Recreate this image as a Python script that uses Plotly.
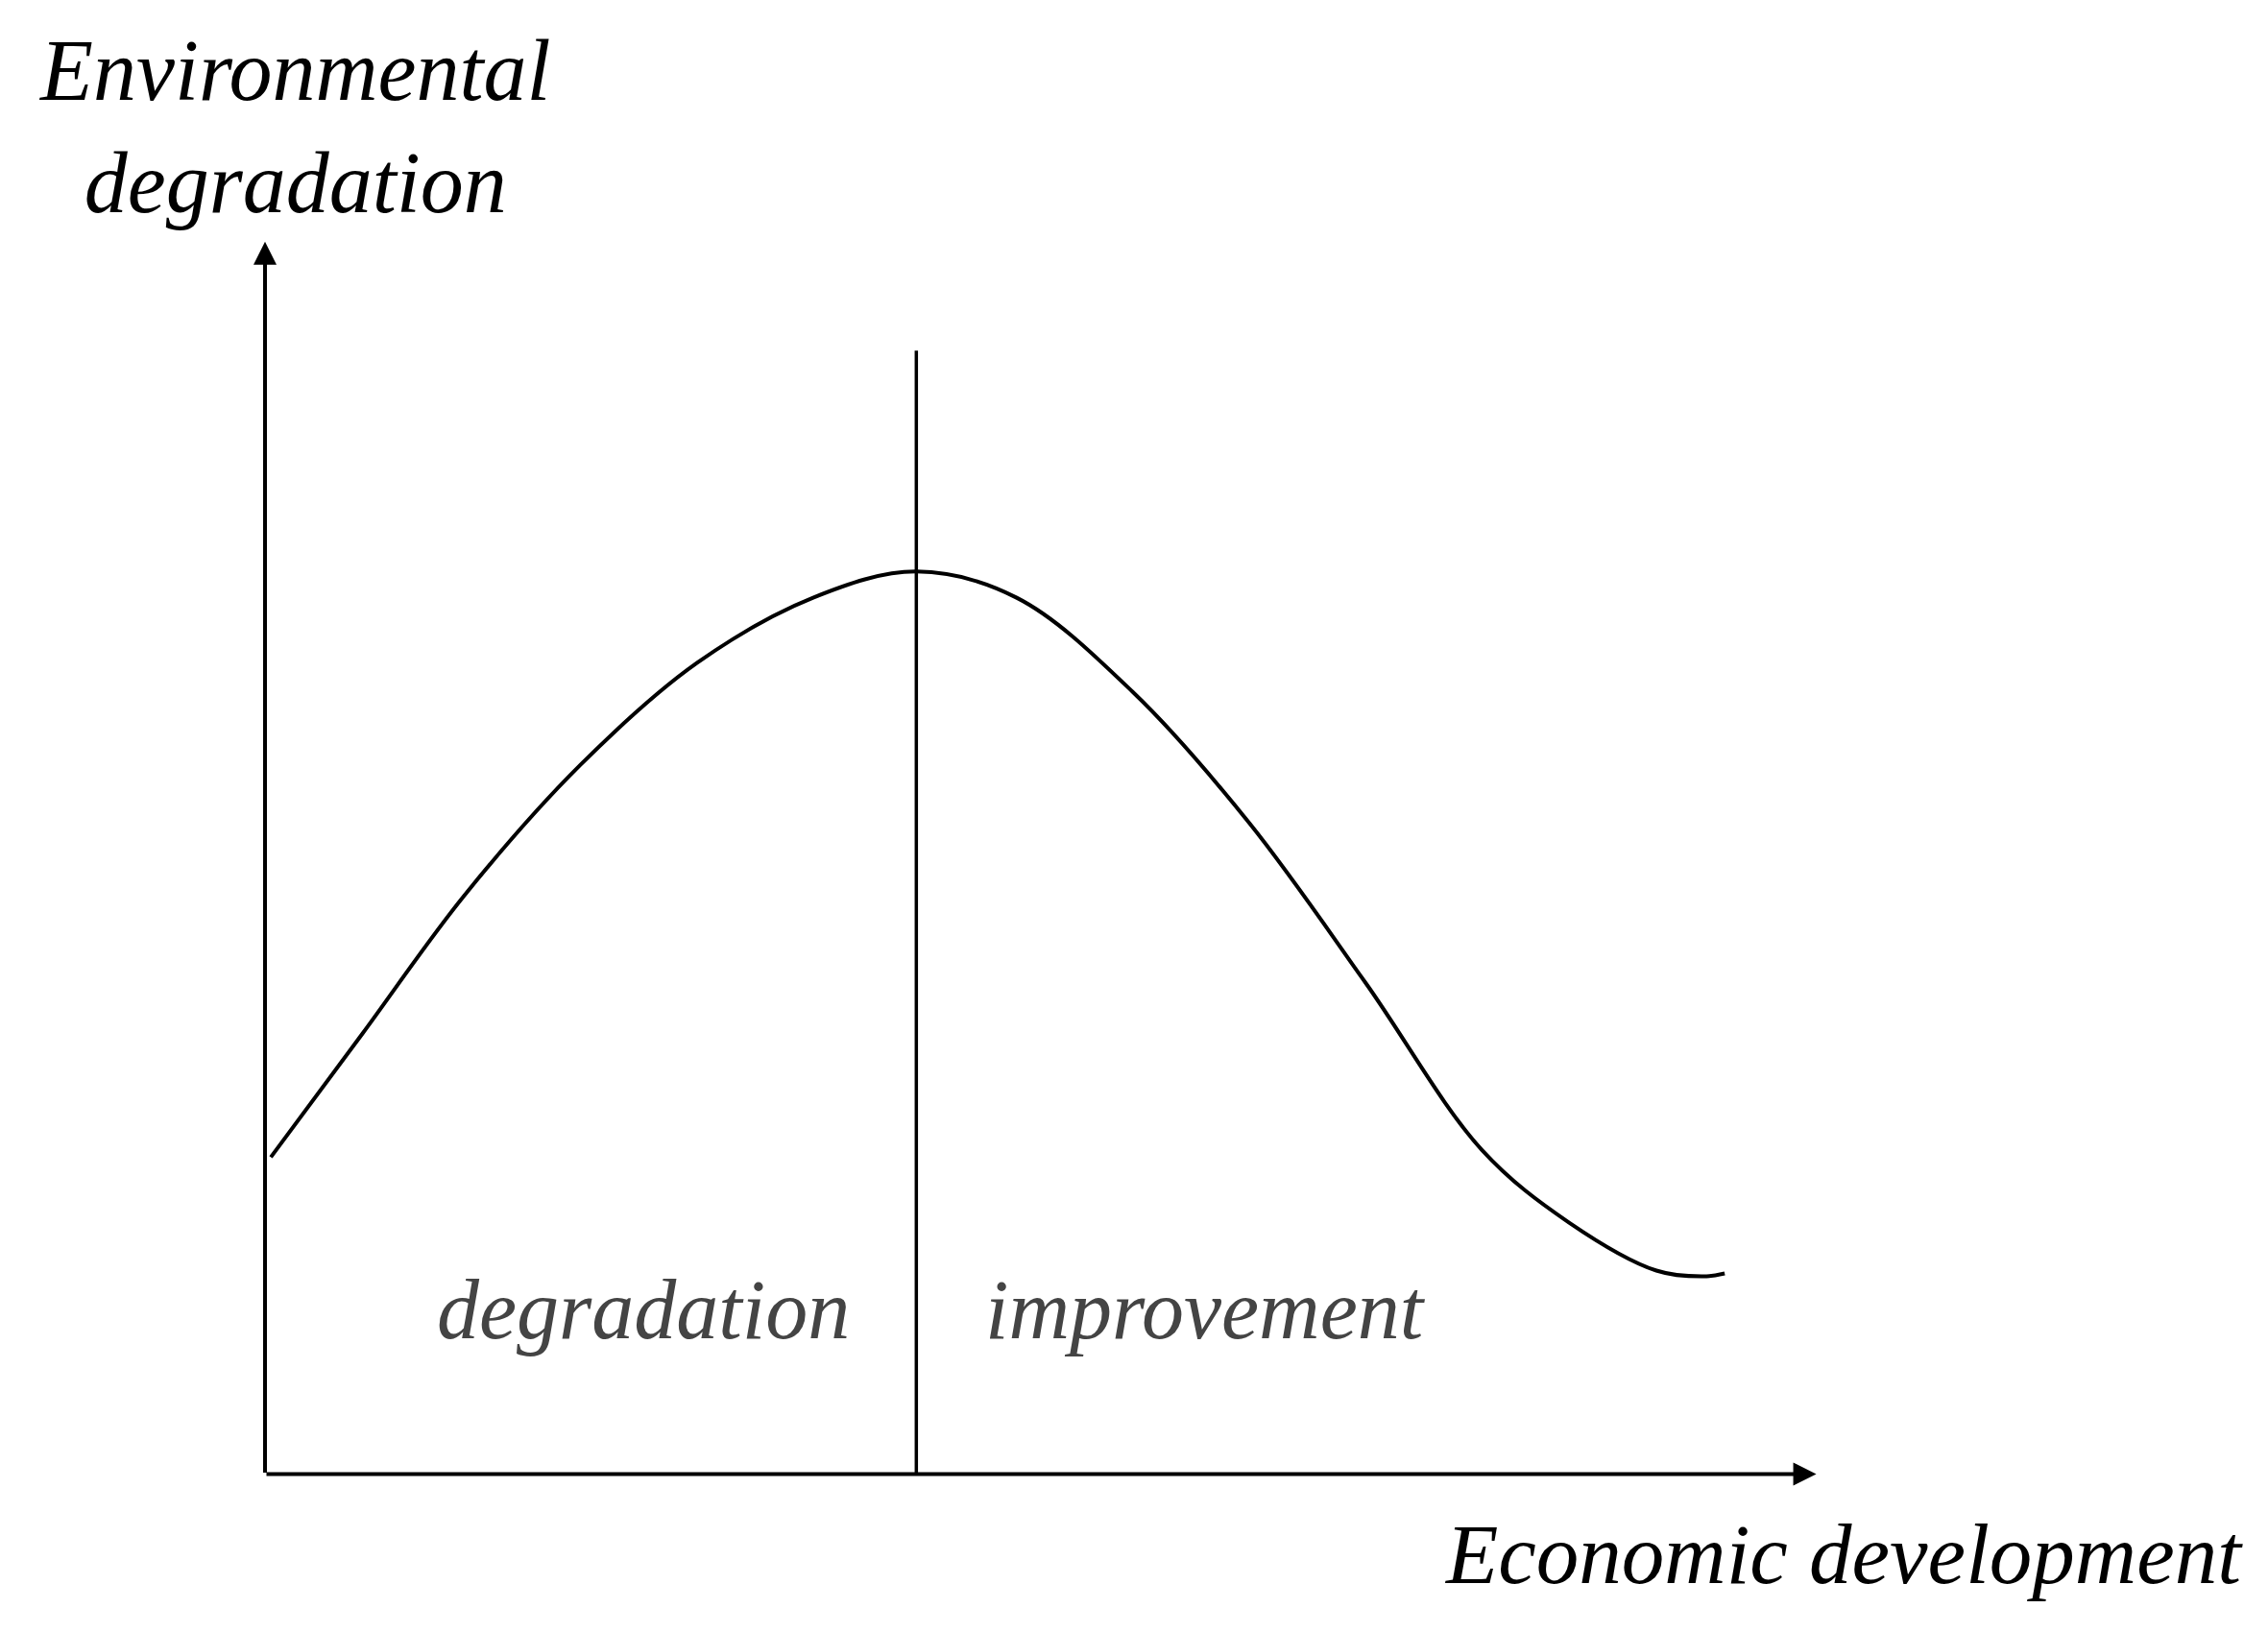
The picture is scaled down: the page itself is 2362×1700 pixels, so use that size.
import plotly.graph_objects as go

# data units (origin at axes intersection)
curve_x = [4, 67, 137, 217, 297, 377, 448, 517, 597, 677, 757, 837, 897, 957, 990, 1004]
curve_y = [218, 303, 398, 488, 558, 603, 621, 603, 538, 448, 338, 223, 173, 140, 136, 138]
peak_x = 448
line_top = 773
x_axis_end = 1067
y_axis_end = 848
region_labels = ["degradation", "improvement"]
region_x = [260, 647]
y_title = "Environmental<br>degradation"
x_title = "Economic development"

F = "Liberation Serif"
fig = go.Figure()
fig.add_trace(go.Scatter(x=curve_x, y=curve_y, mode="lines", line=dict(color="black", width=4, shape="spline"), showlegend=False))
fig.add_trace(go.Scatter(x=[peak_x, peak_x], y=[0, line_top], mode="lines", line=dict(color="black", width=3.5), showlegend=False))

ann = []
for (x0, y0, x1, y1) in [(0, 0, x_axis_end, 0), (0, 0, 0, y_axis_end)]:
    ann.append(dict(x=x1, y=y1, ax=x0, ay=y0, xref="x", yref="y", axref="x", ayref="y",
                    showarrow=True, arrowhead=2, arrowsize=1.2, arrowwidth=4, arrowcolor="black", text=""))
for t, x in zip(region_labels, region_x):
    ann.append(dict(x=x, y=113, text=t, showarrow=False, xref="x", yref="y",
                    font=dict(family=F, size=88, color="#444")))
ann.append(dict(x=-157, y=1000, text=y_title, showarrow=False, xref="x", yref="y", xanchor="left", yanchor="top",
                align="center", font=dict(family=F, size=90, color="black")))
ann.append(dict(x=1362, y=-55, text=x_title, showarrow=False, xref="x", yref="y", xanchor="right",
                font=dict(family=F, size=89, color="black")))
for a in ann:
    if a.get("text"):
        a["text"] = "<i>" + a["text"] + "</i>"
fig.update_layout(annotations=ann, width=2362, height=1700, margin=dict(l=0, r=0, t=0, b=0),
                  plot_bgcolor="white", paper_bgcolor="white",
                  xaxis=dict(range=[-177, 1383], visible=False),
                  yaxis=dict(range=[-114, 1009], visible=False))
fig.write_html("out.html")
